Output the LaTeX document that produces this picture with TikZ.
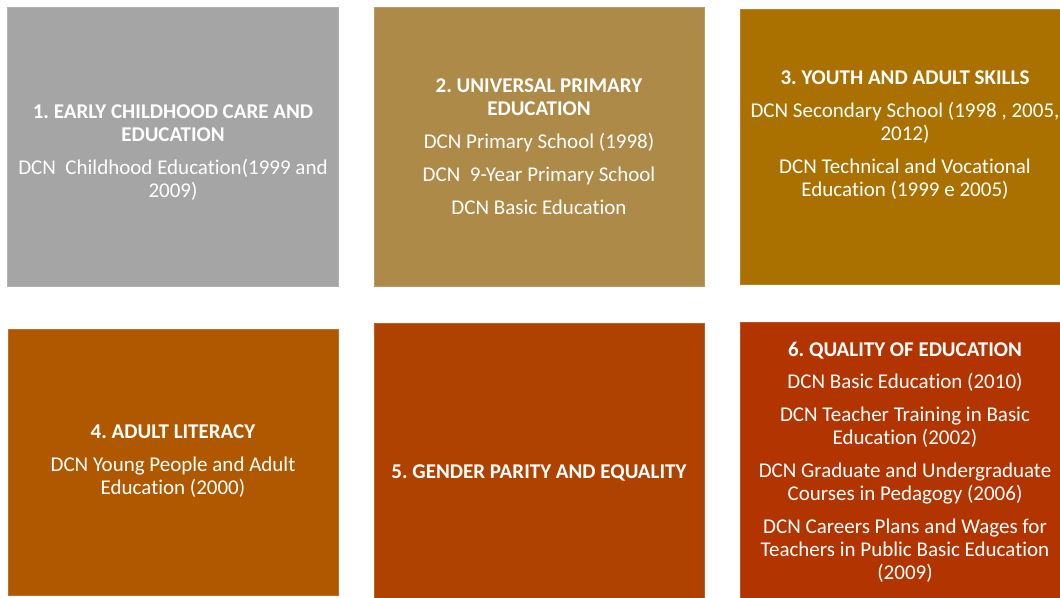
\documentclass[tikz,border=0pt]{standalone}
\usepackage{fontspec}
\setmainfont[Ligatures=NoCommon]{Carlito}
\frenchspacing
\definecolor{cA}{RGB}{165,165,165}
\definecolor{cB}{RGB}{173,138,72}
\definecolor{cC}{RGB}{170,112,0}
\definecolor{cD}{RGB}{175,88,0}
\definecolor{cE}{RGB}{176,66,0}
\definecolor{cF}{RGB}{178,52,0}
\begin{document}
\begin{tikzpicture}[x=1pt,y=-1pt,
  panel/.style={rectangle,inner sep=0pt,outer sep=0pt,fill=#1,draw=#1!85!white,line width=0.8pt},
  paneltext/.style={align=center,text=white,inner sep=0pt,font=\fontsize{21}{23}\selectfont}]
\useasboundingbox (0,0) rectangle (1060,597);
\clip (0,0) rectangle (1060,597);
\node[panel=cA,minimum width=330.5pt,minimum height=278.7pt] (b1) at (172.75,146.65) {};
\node[panel=cB,minimum width=330.5pt,minimum height=278.7pt] (b2) at (539.25,146.65) {};
\node[panel=cC,minimum width=330pt,minimum height=274.7pt] (b3) at (905,146.65) {};
\node[panel=cD,minimum width=330pt,minimum height=265.7pt] (b4) at (173,462.15) {};
\node[panel=cE,minimum width=330.5pt,minimum height=296.3pt] (b5) at (539.25,471.85) {};
\node[panel=cF,minimum width=330pt,minimum height=298pt] (b6) at (905,471) {};

\node[paneltext] (t1) at (173,153) {\textbf{1. EARLY CHILDHOOD CARE AND}\\ \textbf{EDUCATION}\\[10pt] DCN\ \ Childhood Education(1999 and\\ 2009)};
\node[paneltext] (t2) at (539,146.5) {\textbf{2. UNIVERSAL PRIMARY}\\ \textbf{EDUCATION}\\[10pt] DCN Primary School (1998)\\[10pt] DCN\ \ 9-Year Primary School\\[10pt] DCN Basic Education};
\node[paneltext] (t3) at (905,135) {\textbf{3. YOUTH AND ADULT SKILLS}\\[10pt] DCN Secondary School (1998 , 2005,\\ 2012)\\[10pt] DCN Technical and Vocational\\ Education (1999 e 2005)};
\node[paneltext] (t4) at (173,461.5) {\textbf{4. ADULT LITERACY}\\[10pt] DCN Young People and Adult\\ Education (2000)};
\node[paneltext] (t5) at (539,473) {\textbf{5. GENDER PARITY AND EQUALITY}};
\node[paneltext] (t6) at (905,462.5) {\textbf{6. QUALITY OF EDUCATION}\\[9pt] DCN Basic Education (2010)\\[10pt] DCN Teacher Training in Basic\\ Education (2002)\\[10pt] DCN Graduate and Undergraduate\\ Courses in Pedagogy (2006)\\[10pt] DCN Careers Plans and Wages for\\ Teachers in Public Basic Education\\ (2009)};
\end{tikzpicture}
\end{document}
